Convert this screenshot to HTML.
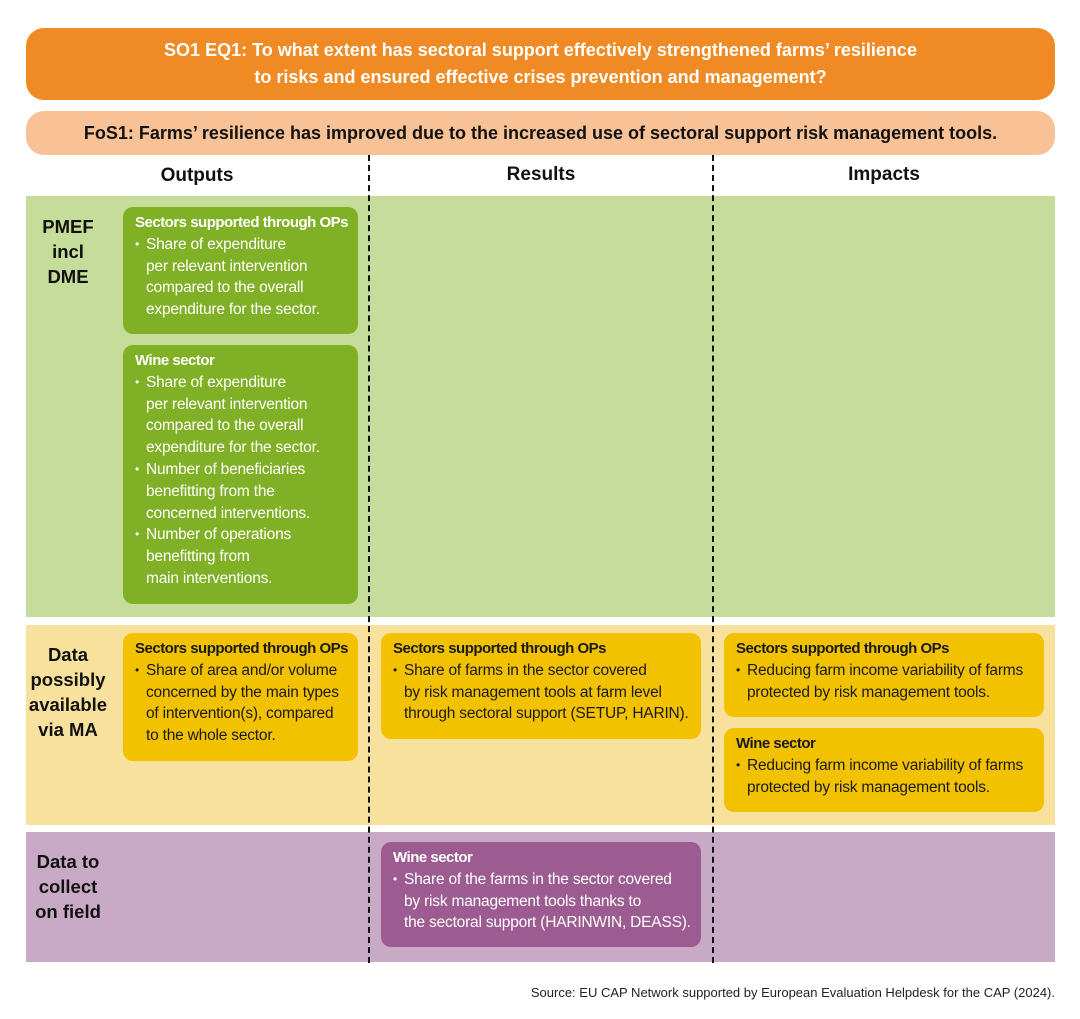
<!DOCTYPE html>
<html><head><meta charset="utf-8">
<style>
html,body{margin:0;padding:0;background:#fff;}
body{width:1080px;height:1019px;position:relative;overflow:hidden;font-family:"Liberation Sans Narrow","Liberation Sans",sans-serif;}
.abs{position:absolute;}
.bar{border-radius:18px;text-align:center;font-weight:bold;}
.band{position:absolute;left:26px;width:1029px;}
.box{position:absolute;border-radius:10px;padding:5px 0 0 12px;box-sizing:border-box;font-size:15.5px;line-height:21.8px;white-space:nowrap;letter-spacing:-0.2px;}
.box .t{font-weight:bold;font-size:15px;letter-spacing:-0.5px;}
.box .b{padding-left:11px;position:relative;}
.box .b::before{content:"•";position:absolute;left:0;font-size:12px;}
.box .c{padding-left:11px;}
.g{background:#80b026;color:#fff;}
.y{background:#f2c200;color:#1a1a1a;}
.p{background:#9c5c91;color:#fff;}
.lab{position:absolute;width:86px;left:25px;text-align:center;font-weight:bold;font-size:18.5px;line-height:25px;color:#111;}
.hd{position:absolute;font-weight:bold;font-size:19px;color:#111;text-align:center;width:200px;}
.dash{position:absolute;top:155px;height:808px;width:0;border-left:2px dashed #111;}
</style></head><body>
<div class="abs bar" style="left:26px;top:28px;width:1029px;height:72px;background:#ef8a24;color:#fff;font-size:18px;line-height:27px;padding-top:9px;box-sizing:border-box;">SO1 EQ1: To what extent has sectoral support effectively strengthened farms’ resilience<br>to risks and ensured effective crises prevention and management?</div>
<div class="abs bar" style="left:26px;top:111px;width:1029px;height:44px;background:#f8c296;color:#111;font-size:18px;line-height:44px;">FoS1: Farms’ resilience has improved due to the increased use of sectoral support risk management tools.</div>

<div class="hd" style="left:97px;top:165px;">Outputs</div>
<div class="hd" style="left:441px;top:164px;">Results</div>
<div class="hd" style="left:784px;top:164px;">Impacts</div>

<div class="band" style="top:196px;height:421px;background:#c6dc9b;"></div>
<div class="band" style="top:625px;height:200px;background:#f8e09d;"></div>
<div class="band" style="top:832px;height:130px;background:#c9aac6;"></div>

<div class="dash" style="left:368px;"></div>
<div class="dash" style="left:712px;"></div>

<div class="lab" style="top:214px;">PMEF<br>incl<br>DME</div>
<div class="lab" style="top:642px;">Data<br>possibly<br>available<br>via MA</div>
<div class="lab" style="top:849px;">Data to<br>collect<br>on field</div>

<div class="box g" style="left:123px;top:207px;width:235px;height:127px;">
<div class="t">Sectors supported through OPs</div>
<div class="b">Share of expenditure</div><div class="c">per relevant intervention</div><div class="c">compared to the overall</div><div class="c">expenditure for the sector.</div></div>

<div class="box g" style="left:123px;top:345px;width:235px;height:259px;">
<div class="t">Wine sector</div>
<div class="b">Share of expenditure</div><div class="c">per relevant intervention</div><div class="c">compared to the overall</div><div class="c">expenditure for the sector.</div>
<div class="b">Number of beneficiaries</div><div class="c">benefitting from the</div><div class="c">concerned interventions.</div>
<div class="b">Number of operations</div><div class="c">benefitting from</div><div class="c">main interventions.</div></div>

<div class="box y" style="left:123px;top:633px;width:235px;height:128px;">
<div class="t">Sectors supported through OPs</div>
<div class="b">Share of area and/or volume</div><div class="c">concerned by the main types</div><div class="c">of intervention(s), compared</div><div class="c">to the whole sector.</div></div>

<div class="box y" style="left:381px;top:633px;width:320px;height:106px;">
<div class="t">Sectors supported through OPs</div>
<div class="b">Share of farms in the sector covered</div><div class="c">by risk management tools at farm level</div><div class="c">through sectoral support (SETUP, HARIN).</div></div>

<div class="box y" style="left:724px;top:633px;width:320px;height:84px;">
<div class="t">Sectors supported through OPs</div>
<div class="b">Reducing farm income variability of farms</div><div class="c">protected by risk management tools.</div></div>

<div class="box y" style="left:724px;top:728px;width:320px;height:84px;">
<div class="t">Wine sector</div>
<div class="b">Reducing farm income variability of farms</div><div class="c">protected by risk management tools.</div></div>

<div class="box p" style="left:381px;top:842px;width:320px;height:105px;">
<div class="t">Wine sector</div>
<div class="b">Share of the farms in the sector covered</div><div class="c">by risk management tools thanks to</div><div class="c">the sectoral support (HARINWIN, DEASS).</div></div>

<div class="abs" style="right:25px;top:985px;font-size:13px;color:#222;white-space:nowrap;">Source: EU CAP Network supported by European Evaluation Helpdesk for the CAP (2024).</div>
</body></html>
